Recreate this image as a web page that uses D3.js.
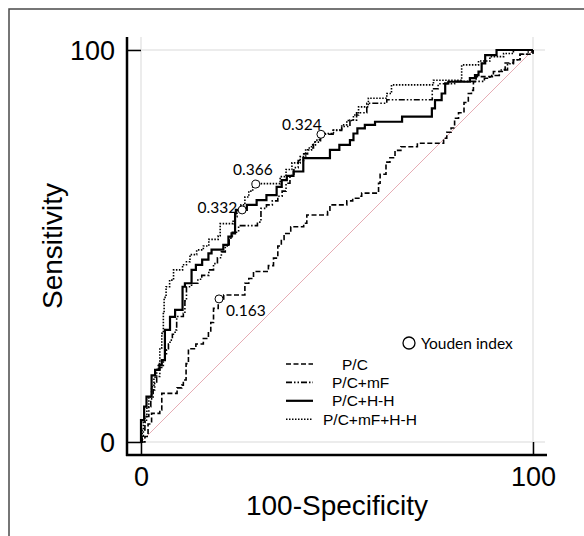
<!DOCTYPE html>
<html>
<head>
<meta charset="utf-8">
<script src="https://cdn.jsdelivr.net/npm/d3@7"></script>
<style>
body { margin: 0; background: #fff; }
svg { display: block; }
</style>
</head>
<body>
<script>
// ROC points, [100-specificity, sensitivity] (step after)
var pcRoc = [[0,0],[1,1.4],[1.8,4.6],[2.7,7.3],[4.8,8.2],[5.3,12.4],[9.2,13.8],[10.4,14.5],[10.8,15.8],[11.5,20],[12.1,23.8],[14,25],[15.9,26.4],[17.2,28.1],[17.8,30.5],[18.5,34.1],[19.7,36.5],[21.1,37.5],[26.5,40.5],[27.5,41.7],[28.7,43.5],[32.5,45],[33.8,46.9],[34.9,50],[35.8,51.7],[36.5,53.2],[38.2,54.9],[41.5,55.8],[42.3,57.9],[47.6,58.8],[48.2,60.5],[52.5,61.5],[54,62.2],[55.8,62.7],[56.3,63.5],[60.6,66],[61,68.3],[62.5,71.4],[63.5,72.5],[64.8,74.4],[66.3,75.3],[70.5,76.2],[77.2,77.5],[78,79],[79.1,80.1],[80,82.6],[81,84],[82.4,86.6],[83.5,88.9],[84.3,89.7],[84.8,91.9],[85.5,93.2],[89.9,94.5],[92.4,95],[92.9,96.7],[95,97.5],[96.7,98.9],[100,100]];

var pcMfRoc = [[0,0],[0.3,1.5],[0.6,3.1],[1,5],[1.4,6.5],[2,9],[2.5,11],[3.1,13.3],[3.5,15],[4,16.7],[4.8,19],[5.7,20.9],[6.1,22.5],[6.5,23.5],[7,25],[7.4,26],[8,27.5],[8.7,28.6],[9.1,32],[10.8,32.8],[11.2,36],[11.6,39.6],[12.9,40.5],[14.5,41.5],[15.5,42.5],[17.3,43.9],[18.5,45.5],[19.5,47],[20.5,48.5],[21.5,50],[22.5,52],[23.3,53.5],[24.9,55.2],[29.7,56.1],[30.6,59.6],[32,60.5],[33.5,61.5],[34.9,62.7],[36,64],[37,66],[38,68],[39,70],[40.1,71.8],[41.5,73.5],[42.5,75],[44,76.5],[45.8,78.5],[49,79.5],[51.2,80.5],[53.3,82.1],[55,84],[57.6,86.4],[62.7,87.3],[74.3,90.1],[75.8,91.4],[80,92],[87.6,92.8],[89,93.5],[91.4,94.9],[93.5,96.5],[95,97.5],[96.7,98.9],[98.5,99.5],[100,100]];

var pcHhRoc = [[0,0],[0,5.6],[0.8,9],[1.4,11.6],[2.7,17],[3.6,18.4],[4.7,19.6],[5.3,20.9],[6.1,28.6],[7.4,31.9],[8.7,33.7],[10.6,39.6],[11.2,40.5],[12.9,43.9],[14,45.2],[15.6,46.5],[17.2,48.1],[18,49.1],[21,50.3],[22.3,52.4],[23.1,53.2],[24,58.3],[24.2,59.2],[27,60.5],[29.5,61.7],[32,63],[34.6,65.1],[35.9,66.8],[37.2,67.9],[38.9,69],[41.4,72.4],[48.2,74.5],[50.6,75.8],[53.3,77],[54.2,78.7],[55.2,80],[57.1,80.9],[59.7,81.7],[66.6,83],[74.2,85.1],[75,87.2],[76.7,88.9],[77.6,91.5],[78.4,91.9],[83.9,92.8],[85.2,93.6],[86.1,94.5],[86.9,96.6],[87.8,98.7],[90.7,100],[100,100]];

var pcMfHhRoc = [[0,0],[0.3,3],[0.6,5],[1,6.5],[1.5,9],[2,11.5],[2.7,14.1],[3.3,16.5],[4,18.5],[4.4,20],[4.8,24],[5.3,27.7],[5.7,33],[5.9,36.9],[6.4,39.6],[7.3,41.3],[8.3,43.9],[10.6,45.2],[11.6,46],[12.5,47.8],[14.2,49],[15.9,50],[17.3,51.7],[19.7,52.6],[20.2,55.7],[23.5,56.5],[24,57.5],[24.5,59],[25.5,60.5],[26.5,62.5],[27.5,64],[28.5,65.9],[35.5,67.7],[37,69.5],[38.5,71.2],[40.6,72.8],[42,74.5],[43.5,75.8],[44.5,77],[45.5,78.7],[49.1,79.6],[51.2,80.9],[52.5,82],[54.2,83.4],[55.5,85.5],[58,87.7],[62.7,88.9],[63.9,91.1],[74.6,92.3],[81.8,96.2],[86.1,97.2],[89,98.3],[92.5,99.1],[95,100],[100,100]];

var seriesNames = ["P/C", "P/C+mF", "P/C+H-H", "P/C+mF+H-H"];

var youdenX = [45.9, 29.3, 25.8, 19.9];
var youdenY = [78.5, 65.8, 59.2, 36.5];
var youdenText = ["0.324", "0.366", "0.332", "0.163"];

var axisTicks = [0, 100];

window.onload = function(){
    var w = 584, h = 536;

    var svg = d3.select("body")
        .append("svg")
        .attr("width", w)
        .attr("height", h);

    // frame (only the top and left edges are in the picture)
    svg.append("rect")
        .attr("x", 9)
        .attr("y", 9)
        .attr("width", w + 20)
        .attr("height", h + 20)
        .style("fill", "none")
        .style("stroke", "#4a4a4a")
        .style("stroke-width", 1.5);

    var x = d3.scaleLinear()
        .domain([0, 100])
        .range([141, 533]);

    var y = d3.scaleLinear()
        .domain([0, 100])
        .range([442, 50]);

    // light grid at 0 and 100
    svg.selectAll(".hgrid")
        .data(axisTicks)
        .enter()
        .append("line")
        .attr("class", "hgrid")
        .attr("x1", x(0) - 14)
        .attr("x2", x(100) + 12)
        .attr("y1", function(d){ return y(d); })
        .attr("y2", function(d){ return y(d); })
        .style("stroke", "#e6e6e6")
        .style("stroke-width", 1.5);

    svg.selectAll(".vgrid")
        .data(axisTicks)
        .enter()
        .append("line")
        .attr("class", "vgrid")
        .attr("x1", function(d){ return x(d); })
        .attr("x2", function(d){ return x(d); })
        .attr("y1", y(100) - 13)
        .attr("y2", y(0) + 13)
        .style("stroke", "#e6e6e6")
        .style("stroke-width", 1.5);

    // chance line
    svg.append("line")
        .attr("x1", x(0))
        .attr("y1", y(0))
        .attr("x2", x(100))
        .attr("y2", y(100))
        .style("stroke", "#e3a3ab")
        .style("stroke-width", 0.9);

    // axes
    var yAxis = d3.axisLeft(y)
        .tickValues(axisTicks)
        .tickSize(14)
        .tickPadding(12);

    var gy = svg.append("g")
        .attr("transform", "translate(" + x(0) + ",0)")
        .call(yAxis);

    var xAxis = d3.axisBottom(x)
        .tickValues(axisTicks)
        .tickSize(13)
        .tickPadding(12);

    var gx = svg.append("g")
        .attr("transform", "translate(0," + y(0) + ")")
        .call(xAxis);

    [gx, gy].forEach(function(g){
        g.select(".domain").remove();
        g.selectAll(".tick line")
            .style("stroke", "#000")
            .style("stroke-width", 1.5);
        g.selectAll(".tick text")
            .style("font-family", "'Liberation Sans', Arial, sans-serif")
            .style("font-size", "27px")
            .style("fill", "#000");
    });
    gy.selectAll(".tick text").attr("dy", "0.36em");

    svg.append("line")
        .attr("x1", x(0) - 14)
        .attr("x2", x(0) - 14)
        .attr("y1", y(100) - 13)
        .attr("y2", y(0) + 14)
        .style("stroke", "#000")
        .style("stroke-width", 2.5);

    svg.append("line")
        .attr("x1", x(0) - 15)
        .attr("x2", x(100) + 14)
        .attr("y1", y(0) + 13)
        .attr("y2", y(0) + 13)
        .style("stroke", "#000")
        .style("stroke-width", 2.5);

    svg.append("text")
        .attr("x", (x(0) + x(100)) / 2)
        .attr("y", 515)
        .attr("text-anchor", "middle")
        .style("font-family", "'Liberation Sans', Arial, sans-serif")
        .style("font-size", "28px")
        .text("100-Specificity");

    svg.append("text")
        .attr("transform", "translate(62," + (y(0) + y(100)) / 2 + ") rotate(-90)")
        .attr("text-anchor", "middle")
        .style("font-family", "'Liberation Sans', Arial, sans-serif")
        .style("font-size", "28px")
        .text("Sensitivity");

    // curves
    var series = [
        { name: seriesNames[0], values: pcRoc, dash: "5,2.5", width: 1.6 },
        { name: seriesNames[1], values: pcMfRoc, dash: "6,2,1.5,2,1.5,2", width: 1.6 },
        { name: seriesNames[2], values: pcHhRoc, dash: null, width: 2.2 },
        { name: seriesNames[3], values: pcMfHhRoc, dash: "1.5,1.5", width: 1.6 }
    ];

    var line = d3.line()
        .x(function(d){ return x(d[0]); })
        .y(function(d){ return y(d[1]); })
        .curve(d3.curveStepAfter);

    svg.selectAll(".roc")
        .data(series)
        .enter()
        .append("path")
        .attr("class", "roc")
        .attr("d", function(d){ return line(d.values); })
        .style("fill", "none")
        .style("stroke", "#000")
        .style("stroke-width", function(d){ return d.width; })
        .style("stroke-dasharray", function(d){ return d.dash; });

    // Youden index points
    var labelOffset = [
        { dx: -19, dy: -4, anchor: "middle" },
        { dx: -3, dy: -9, anchor: "middle" },
        { dx: -5, dy: 3, anchor: "end" },
        { dx: 7, dy: 17, anchor: "start" }
    ];

    var youden = youdenText.map(function(t, i){
        return { x: youdenX[i], y: youdenY[i], text: t };
    });

    svg.selectAll(".youden")
        .data(youden)
        .enter()
        .append("circle")
        .attr("class", "youden")
        .attr("cx", function(d){ return x(d.x); })
        .attr("cy", function(d){ return y(d.y); })
        .attr("r", 4)
        .style("fill", "#fff")
        .style("stroke", "#000")
        .style("stroke-width", 1);

    svg.selectAll(".ylab")
        .data(youden)
        .enter()
        .append("text")
        .attr("class", "ylab")
        .attr("x", function(d, i){ return x(d.x) + labelOffset[i].dx; })
        .attr("y", function(d, i){ return y(d.y) + labelOffset[i].dy; })
        .attr("text-anchor", function(d, i){ return labelOffset[i].anchor; })
        .style("font-family", "Lato, 'Open Sans', sans-serif")
        .style("font-size", "15.5px")
        .text(function(d){ return d.text; });

    // legend
    svg.append("circle")
        .attr("cx", 409)
        .attr("cy", 343)
        .attr("r", 6)
        .style("fill", "#fff")
        .style("stroke", "#000")
        .style("stroke-width", 1.3);

    svg.append("text")
        .attr("x", 421)
        .attr("y", 348.5)
        .style("font-family", "Lato, 'Open Sans', sans-serif")
        .style("font-size", "15.5px")
        .text("Youden index");

    var legendTextX = [342, 332, 332, 323];

    var legend = svg.selectAll(".legend")
        .data(series)
        .enter()
        .append("g")
        .attr("class", "legend")
        .attr("transform", function(d, i){ return "translate(0," + (364 + i * 18.4) + ")"; });

    legend.append("line")
        .attr("x1", 286)
        .attr("x2", 313)
        .style("stroke", "#000")
        .style("stroke-width", function(d){ return d.width; })
        .style("stroke-dasharray", function(d){ return d.dash; });

    legend.append("text")
        .attr("x", function(d, i){ return legendTextX[i]; })
        .attr("y", 5.5)
        .style("font-family", "'Liberation Sans', Arial, sans-serif")
        .style("font-size", "15.5px")
        .text(function(d){ return d.name; });
};
</script>
</body>
</html>
